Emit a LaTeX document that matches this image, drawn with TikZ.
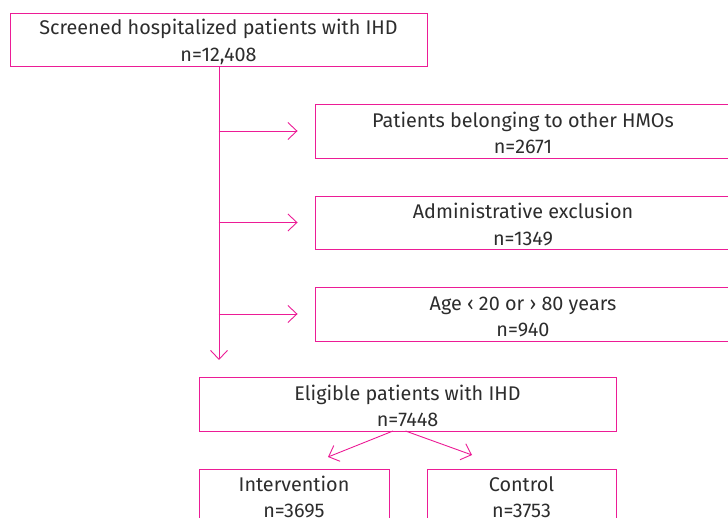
\documentclass[tikz,border=0pt]{standalone}
\usepackage{fontspec}
\setmainfont{Fira Sans}
\usetikzlibrary{arrows.meta}
\definecolor{mag}{RGB}{236,28,150}
\definecolor{txt}{RGB}{45,45,45}
\newcommand{\lowr}{\rule{0pt}{19pt}}
\tikzset{
  box/.style={draw=mag, line width=0.9pt, rectangle, inner sep=0pt, align=center,
    text=txt, font=\fontsize{19.8}{26.5}\selectfont},
  arr/.style={draw=mag, line width=0.9pt, -{Straight Barb[length=9pt,width=17pt]}},
}
\begin{document}
\begin{tikzpicture}[x=1pt,y=-1pt]
\clip (0,0) rectangle (728,518);
\fill[white] (0,0) rectangle (728,518);
\node[box, minimum width=417pt, minimum height=53pt] (top) at (218.5,40) {\lowr Screened hospitalized patients with IHD\\n=12,408};
\node[box, minimum width=416pt, minimum height=54pt] (b1) at (523,131) {\lowr Patients belonging to other HMOs\\n=2671};
\node[box, minimum width=416pt, minimum height=53pt] (b2) at (523,222.5) {\lowr Administrative exclusion\\n=1349};
\node[box, minimum width=416pt, minimum height=54pt] (b3) at (523,314) {\lowr Age ‹ 20 or › 80 years\\n=940};
\node[box, minimum width=417pt, minimum height=54pt] (elig) at (407.5,404) {\lowr Eligible patients with IHD\\n=7448};
\node[box, minimum width=190pt, minimum height=52pt] (int) at (294,495) {\lowr Intervention\\n=3695};
\node[box, minimum width=189pt, minimum height=52pt] (ctl) at (521.5,495) {\lowr Control\\n=3753};
\coordinate (down) at (219,360);
\coordinate (el) at (393,431);
\coordinate (er) at (405.5,431);
\coordinate (tl) at (328,457);
\coordinate (tr) at (472,455);
\draw[arr] (top.south -| down) -- (down);
\draw[arr] (top.south |- b1.west) -- ([xshift=-17pt]b1.west);
\draw[arr] (top.south |- b2.west) -- ([xshift=-17pt]b2.west);
\draw[arr] (top.south |- b3.west) -- ([xshift=-17pt]b3.west);
\draw[arr] (el) -- (tl);
\draw[arr] (er) -- (tr);
\end{tikzpicture}
\end{document}
